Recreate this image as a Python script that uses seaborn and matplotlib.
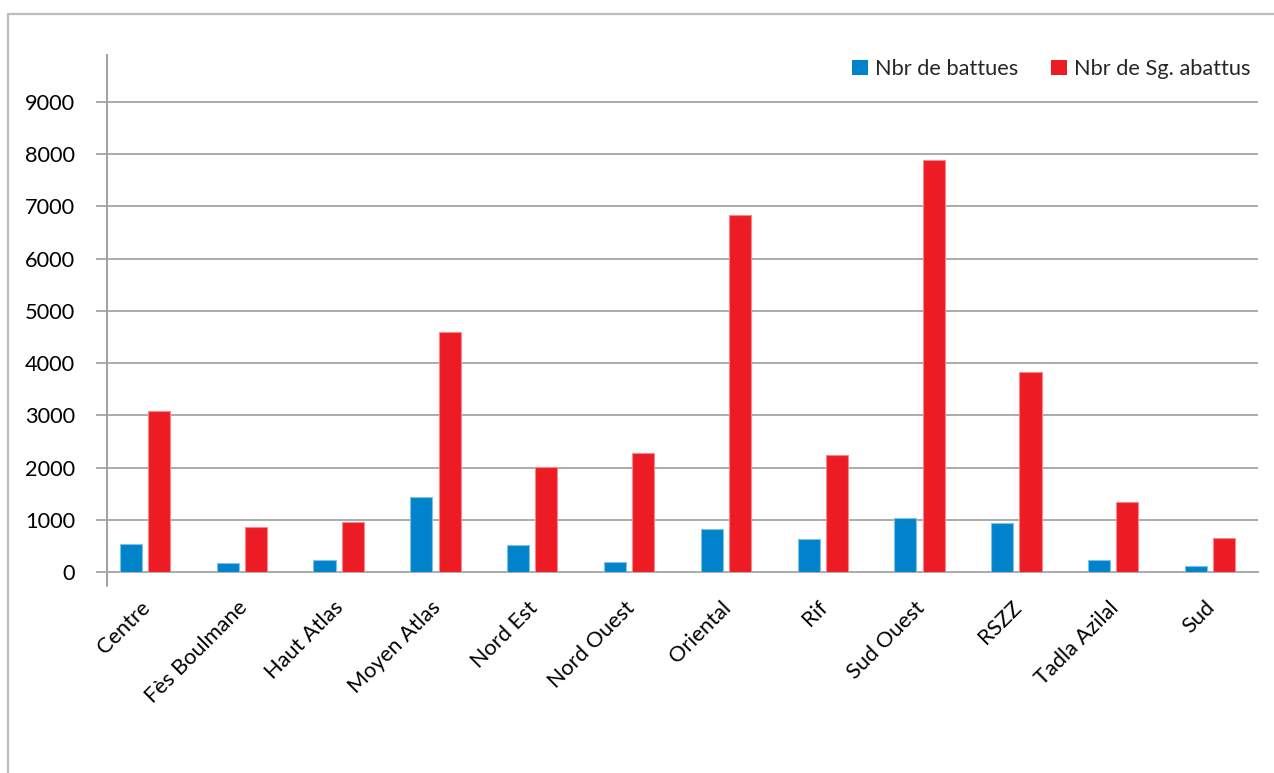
import matplotlib
matplotlib.use("Agg")
import matplotlib.pyplot as plt
import matplotlib.transforms as mtransforms
import pandas as pd
import seaborn as sns
from matplotlib.lines import Line2D
from matplotlib.patches import Patch

# Hunting drives and wild boars killed per region
regions = ["Centre", "Fès Boulmane", "Haut Atlas", "Moyen Atlas", "Nord Est",
           "Nord Ouest", "Oriental", "Rif", "Sud Ouest", "RSZZ",
           "Tadla Azilal", "Sud"]
battues = [545, 167, 237, 1437, 517, 192, 831, 626, 1029, 933, 237, 115]
sangliers = [3080, 862, 952, 4592, 2019, 2280, 6833, 2242, 7887, 3826, 1341, 659]
series = ["Nbr de battues", "Nbr de Sg. abattus"]
yticks = [0, 1000, 2000, 3000, 4000, 5000, 6000, 7000, 8000, 9000]

colors = {series[0]: "#0083CA", series[1]: "#ED1C24"}
edges = {series[0]: "#7FC0E6", series[1]: "#F5888C"}

df = pd.DataFrame({
    "region": regions * 2,
    "serie": [series[0]] * len(regions) + [series[1]] * len(regions),
    "valeur": battues + sangliers,
})

sns.set_theme(style="white")
plt.rcParams["font.family"] = ["Lato", "DejaVu Sans"]
FS = 15.7

W, H = 1274, 773
fig = plt.figure(figsize=(W / 100, H / 100), dpi=100)
ax = fig.add_axes([107 / W, 1 - 572 / H, (1258 - 107) / W, (572 - 55) / H])

sns.barplot(data=df, x="region", y="valeur", hue="serie", order=regions,
            hue_order=series, palette=colors, saturation=1, width=0.585,
            gap=0.22, errorbar=None, legend=False, ax=ax, zorder=3)

for container, s in zip(ax.containers, series):
    for bar in container:
        bar.set_edgecolor(edges[s])
        bar.set_linewidth(0.8)

ax.set_xlim(-0.393, 11.496)
ax.set_ylim(0, 9900)
ax.set_yticks(yticks)
ax.set_yticklabels([str(v) for v in yticks])
ax.set_xlabel("")
ax.set_ylabel("")

ax.yaxis.grid(True, color="#ABABAB", linewidth=1.4)
ax.set_axisbelow(True)

for side in ["top", "right"]:
    ax.spines[side].set_visible(False)
ax.spines["left"].set_color("#A0A0A0")
ax.spines["left"].set_linewidth(1.4)
ax.spines["bottom"].set_color("#ABABAB")
ax.spines["bottom"].set_linewidth(1.4)

ax.tick_params(axis="y", which="major", length=8, width=1.4, color="#ABABAB",
               pad=15, labelsize=FS, labelcolor="#000000", left=True)
ax.tick_params(axis="x", length=0, pad=14, labelsize=FS, labelcolor="#000000")
shift = mtransforms.ScaledTranslation(-5 / 100, -6 / 100, fig.dpi_scale_trans)
for lbl in ax.get_xticklabels():
    lbl.set_rotation(45)
    lbl.set_ha("right")
    lbl.set_rotation_mode("anchor")
    lbl.set_transform(lbl.get_transform() + shift)

# short downward extension of the value axis below zero
ax.add_line(Line2D([0, 0], [0, -0.028], transform=ax.transAxes,
                   color="#A0A0A0", linewidth=1.4, clip_on=False))

handles = [Patch(facecolor=colors[s], edgecolor="none") for s in series]
fig.legend(handles, series, loc="center right",
           bbox_to_anchor=(1251 / W, 1 - 69 / H), ncol=2, frameon=False,
           fontsize=FS, handlelength=0.72, handleheight=0.72,
           handletextpad=0.35, columnspacing=1.5, borderaxespad=0,
           borderpad=0)

# chart area frame
fig.add_artist(Line2D([8 / W, 1.0], [1 - 14 / H, 1 - 14 / H],
                      transform=fig.transFigure, color="#BDBDBD", linewidth=1.6))
fig.add_artist(Line2D([8 / W, 8 / W], [0.0, 1 - 14 / H],
                      transform=fig.transFigure, color="#BDBDBD", linewidth=1.6))

fig.savefig("out.png", dpi=100, facecolor="white")
